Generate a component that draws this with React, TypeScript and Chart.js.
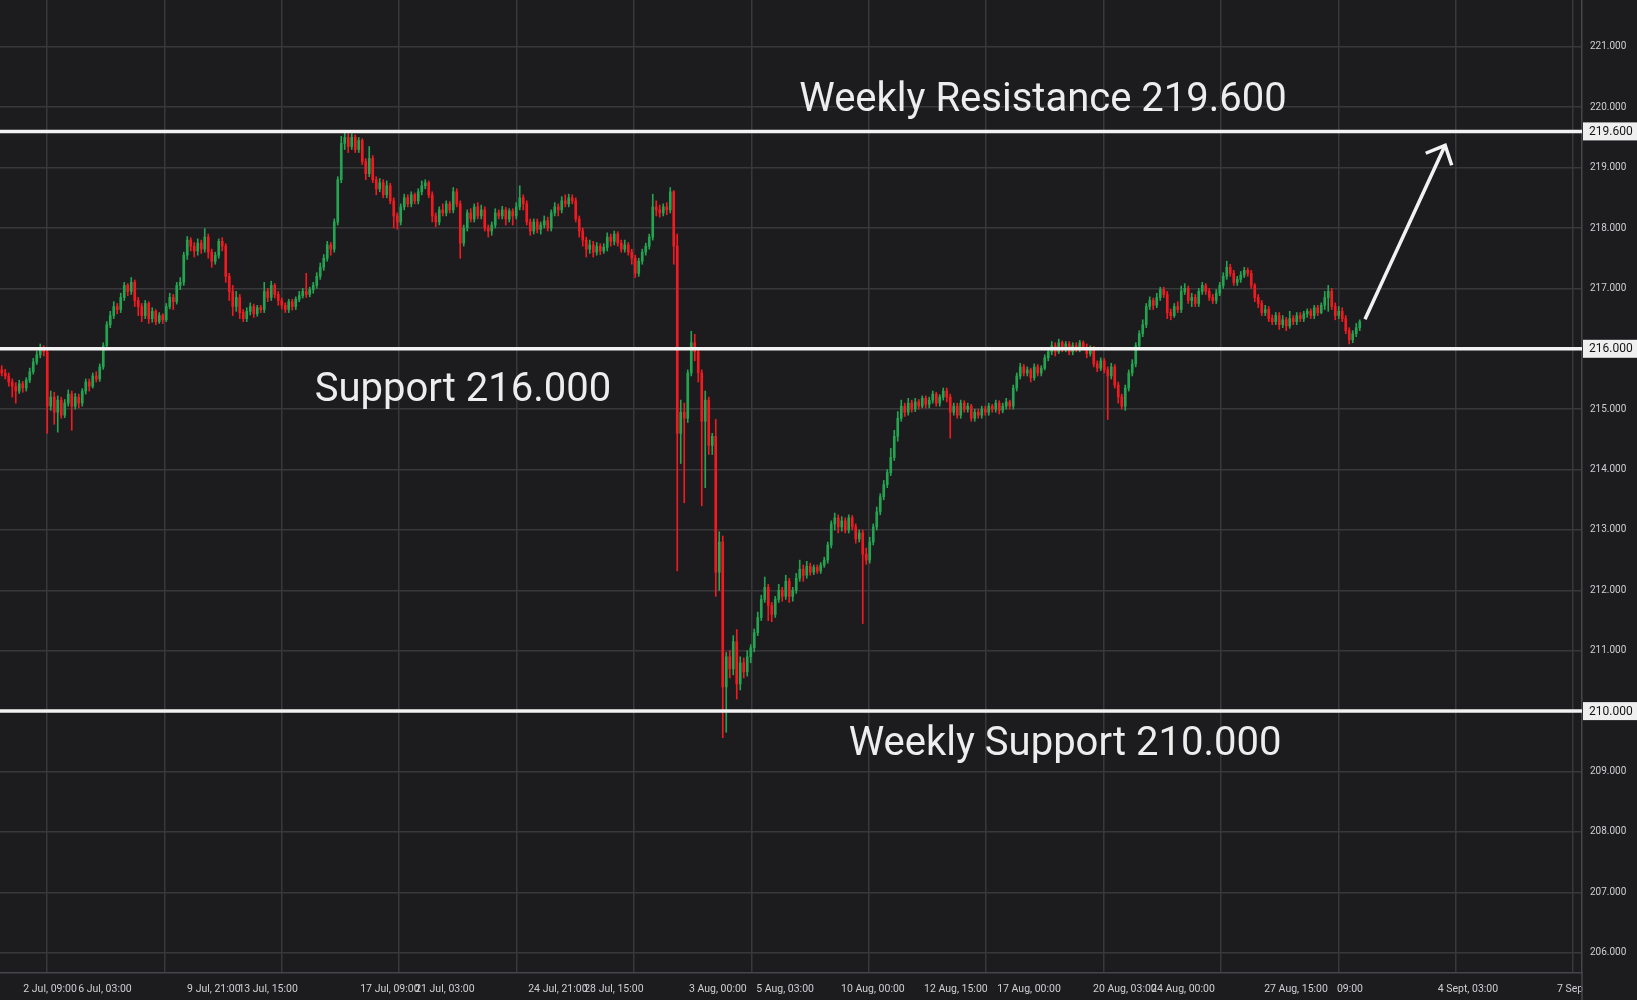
import { useEffect, useRef } from "react";
import { Chart, registerables } from "chart.js";

Chart.register(...registerables);

// ---------- data ----------
const firstOpen = 215.65;

const closes = [
  215.60, 215.55, 215.45, 215.38, 215.30, 215.42, 215.35, 215.48, 215.62, 215.78,
  215.90, 216.02, 215.95, 215.05, 215.20, 214.95, 215.15, 214.90, 215.10, 215.25,
  215.05, 215.20, 215.10, 215.30, 215.45, 215.38, 215.55, 215.50, 215.70, 216.05,
  216.40, 216.55, 216.70, 216.65, 216.85, 217.05, 216.95, 217.10, 216.80, 216.70,
  216.55, 216.75, 216.50, 216.62, 216.45, 216.55, 216.48, 216.70, 216.85, 216.78,
  217.05, 217.10, 217.55, 217.80, 217.70, 217.62, 217.75, 217.65, 217.85, 217.60,
  217.45, 217.55, 217.78, 217.70, 217.20, 216.95, 216.70, 216.85, 216.60, 216.50,
  216.62, 216.70, 216.58, 216.68, 216.65, 216.95, 216.85, 217.05, 216.90, 216.80,
  216.72, 216.65, 216.78, 216.70, 216.82, 216.88, 216.95, 216.90, 216.98, 217.05,
  217.20, 217.35, 217.50, 217.72, 217.65, 218.10, 218.80, 219.40, 219.50, 219.35,
  219.50, 219.30, 219.45, 219.10, 218.90, 219.15, 218.80, 218.65, 218.75, 218.55,
  218.70, 218.45, 218.20, 218.10, 218.35, 218.50, 218.40, 218.55, 218.45, 218.60,
  218.70, 218.75, 218.55, 218.20, 218.10, 218.30, 218.25, 218.40, 218.30, 218.60,
  218.40, 217.75, 218.00, 218.25, 218.15, 218.35, 218.20, 218.30, 218.00, 217.95,
  218.05, 218.25, 218.20, 218.30, 218.15, 218.28, 218.20, 218.35, 218.50, 218.40,
  218.10, 217.95, 218.10, 217.98, 218.05, 218.12, 218.00, 218.25, 218.35, 218.30,
  218.45, 218.40, 218.50, 218.45, 218.15, 217.95, 217.80, 217.65, 217.72, 217.60,
  217.70, 217.62, 217.68, 217.85, 217.78, 217.90, 217.75, 217.65, 217.72, 217.60,
  217.50, 217.25, 217.45, 217.60, 217.70, 217.85, 218.35, 218.30, 218.25, 218.35,
  218.30, 218.60, 217.70, 214.60, 214.95, 214.85, 215.60, 216.10, 215.95, 215.60,
  214.80, 215.15, 214.40, 214.55, 212.30, 212.80, 210.40, 210.90, 210.70, 211.15,
  210.45, 210.80, 210.65, 210.90, 211.05, 211.30, 211.55, 211.85, 212.05, 211.75,
  211.60, 211.85, 212.00, 211.90, 212.15, 211.90, 212.00, 212.20, 212.35, 212.25,
  212.40, 212.30, 212.38, 212.32, 212.42, 212.50, 212.75, 213.10, 213.20, 213.05,
  213.15, 213.00, 213.20, 213.05, 212.85, 212.95, 212.60, 212.50, 212.80, 213.05,
  213.30, 213.55, 213.75, 213.95, 214.20, 214.55, 214.85, 215.05, 214.95, 215.10,
  215.00, 215.12, 215.05, 215.18, 215.08, 215.15, 215.25, 215.10, 215.20, 215.30,
  215.20, 214.95, 215.05, 214.90, 215.10, 215.00, 215.05, 214.85, 214.95, 214.90,
  215.00, 214.95, 215.05, 215.00, 215.10, 214.98, 215.05, 215.12, 215.05, 215.35,
  215.55, 215.70, 215.60, 215.65, 215.52, 215.70, 215.60, 215.68, 215.85, 215.95,
  216.05, 215.95, 216.10, 216.00, 216.08, 215.95, 216.05, 216.00, 216.10, 216.02,
  215.92, 216.00, 215.75, 215.68, 215.80, 215.65, 215.55, 215.70, 215.40, 215.20,
  215.05, 215.35, 215.60, 215.75, 216.05, 216.25, 216.40, 216.70, 216.80, 216.72,
  216.85, 216.98, 216.90, 216.60, 216.55, 216.70, 216.65, 216.95, 217.00, 216.80,
  216.85, 216.75, 216.95, 217.05, 216.95, 216.85, 216.80, 216.92, 217.05, 217.20,
  217.35, 217.25, 217.10, 217.15, 217.22, 217.30, 217.25, 217.05, 216.85, 216.75,
  216.60, 216.65, 216.50, 216.45, 216.55, 216.40, 216.48, 216.38, 216.50, 216.45,
  216.55, 216.50, 216.58, 216.62, 216.55, 216.68, 216.60, 216.72, 216.85, 216.95,
  216.70, 216.55, 216.62, 216.50, 216.30, 216.15, 216.25, 216.35, 216.45,
];

const highs = [
  215.72, 215.66, 215.60, 215.50, 215.44, 215.48, 215.46, 215.52, 215.68, 215.84,
  215.96, 216.08, 216.05, 215.98, 215.30, 215.28, 215.22, 215.20, 215.16, 215.32,
  215.30, 215.26, 215.25, 215.34, 215.50, 215.50, 215.60, 215.62, 215.75, 216.10,
  216.45, 216.62, 216.78, 216.75, 216.92, 217.10, 217.08, 217.18, 217.14, 216.85,
  216.75, 216.80, 216.78, 216.68, 216.65, 216.60, 216.58, 216.75, 216.92, 216.90,
  217.10, 217.18, 217.60, 217.86, 217.84, 217.76, 217.82, 217.80, 217.99, 217.90,
  217.65, 217.60, 217.82, 217.84, 217.74, 217.25, 217.05, 216.95, 216.90, 216.65,
  216.68, 216.76, 216.74, 216.72, 216.72, 217.10, 217.00, 217.12, 217.08, 216.95,
  216.84, 216.76, 216.82, 216.82, 216.86, 216.95, 217.00, 217.25, 217.02, 217.10,
  217.26, 217.42, 217.56, 217.78, 217.76, 218.15, 218.85, 219.52, 219.58, 219.56,
  219.56, 219.54, 219.50, 219.48, 219.15, 219.35, 219.20, 218.85, 218.82, 218.80,
  218.78, 218.74, 218.50, 218.25, 218.40, 218.56, 218.55, 218.60, 218.58, 218.65,
  218.78, 218.80, 218.78, 218.60, 218.25, 218.35, 218.40, 218.45, 218.44, 218.67,
  218.65, 218.45, 218.05, 218.30, 218.32, 218.40, 218.42, 218.38, 218.35, 218.05,
  218.10, 218.32, 218.30, 218.36, 218.34, 218.32, 218.32, 218.42, 218.70, 218.55,
  218.45, 218.15, 218.15, 218.15, 218.10, 218.20, 218.18, 218.30, 218.42, 218.40,
  218.52, 218.55, 218.56, 218.55, 218.50, 218.20, 218.00, 217.85, 217.80, 217.78,
  217.76, 217.74, 217.74, 217.92, 217.90, 217.95, 217.94, 217.80, 217.80, 217.76,
  217.65, 217.55, 217.50, 217.65, 217.75, 217.90, 218.56, 218.45, 218.38, 218.40,
  218.42, 218.67, 218.62, 217.90, 215.15, 215.10, 215.65, 216.29, 216.24, 216.00,
  215.65, 215.30, 215.20, 214.60, 214.83, 212.97, 212.90, 210.97, 211.00, 211.25,
  211.35, 210.90, 210.88, 211.00, 211.10, 211.36, 211.64, 211.92, 212.22, 212.10,
  211.80, 211.90, 212.10, 212.05, 212.25, 212.20, 212.05, 212.28, 212.50, 212.42,
  212.48, 212.45, 212.42, 212.42, 212.46, 212.55, 212.80, 213.15, 213.28, 213.25,
  213.22, 213.20, 213.25, 213.24, 213.10, 213.00, 213.00, 212.70, 212.88, 213.10,
  213.38, 213.60, 213.82, 214.00, 214.35, 214.65, 214.96, 215.15, 215.10, 215.18,
  215.15, 215.18, 215.16, 215.22, 215.22, 215.20, 215.30, 215.28, 215.24, 215.35,
  215.35, 215.25, 215.10, 215.10, 215.15, 215.14, 215.10, 215.08, 215.00, 215.00,
  215.05, 215.05, 215.10, 215.08, 215.15, 215.14, 215.10, 215.18, 215.15, 215.40,
  215.60, 215.76, 215.74, 215.70, 215.68, 215.75, 215.74, 215.72, 215.90, 216.00,
  216.12, 216.10, 216.16, 216.13, 216.12, 216.12, 216.10, 216.10, 216.14, 216.13,
  216.08, 216.05, 216.04, 215.80, 215.85, 215.84, 215.70, 215.76, 215.74, 215.45,
  215.25, 215.40, 215.65, 215.82, 216.10, 216.30, 216.48, 216.75, 216.86, 216.84,
  216.92, 217.02, 217.02, 216.95, 216.66, 216.75, 216.78, 217.04, 217.08, 217.04,
  216.92, 216.90, 217.00, 217.10, 217.08, 217.00, 216.90, 216.98, 217.10, 217.26,
  217.45, 217.40, 217.30, 217.20, 217.28, 217.35, 217.34, 217.30, 217.08, 216.90,
  216.80, 216.72, 216.70, 216.56, 216.60, 216.60, 216.55, 216.52, 216.62, 216.55,
  216.60, 216.60, 216.62, 216.66, 216.66, 216.72, 216.72, 216.76, 216.95, 217.05,
  217.00, 216.76, 216.70, 216.68, 216.55, 216.35, 216.30, 216.42, 216.48,
];

const lows = [
  215.55, 215.50, 215.38, 215.20, 215.10, 215.26, 215.28, 215.30, 215.44, 215.58,
  215.74, 215.85, 215.88, 214.60, 214.98, 214.75, 214.62, 214.85, 214.86, 215.05,
  214.65, 215.00, 215.02, 215.05, 215.25, 215.30, 215.35, 215.45, 215.46, 215.66,
  216.00, 216.35, 216.50, 216.58, 216.60, 216.80, 216.88, 216.90, 216.70, 216.55,
  216.45, 216.50, 216.42, 216.44, 216.40, 216.42, 216.42, 216.45, 216.66, 216.65,
  216.74, 216.98, 217.05, 217.48, 217.62, 217.52, 217.55, 217.58, 217.60, 217.50,
  217.35, 217.40, 217.50, 217.62, 217.10, 216.80, 216.55, 216.62, 216.50, 216.45,
  216.45, 216.56, 216.52, 216.54, 216.60, 216.60, 216.78, 216.80, 216.84, 216.72,
  216.66, 216.60, 216.60, 216.64, 216.65, 216.78, 216.84, 216.85, 216.86, 216.92,
  217.00, 217.15, 217.30, 217.45, 217.55, 217.60, 218.05, 218.75, 219.30, 219.25,
  219.30, 219.25, 219.25, 219.05, 218.80, 218.85, 218.75, 218.55, 218.60, 218.50,
  218.50, 218.40, 218.00, 217.98, 218.05, 218.30, 218.35, 218.35, 218.40, 218.40,
  218.55, 218.65, 218.50, 218.10, 218.02, 218.05, 218.20, 218.20, 218.25, 218.25,
  218.35, 217.50, 217.70, 217.95, 218.10, 218.10, 218.15, 218.15, 217.95, 217.85,
  217.88, 218.00, 218.15, 218.15, 218.05, 218.10, 218.05, 218.15, 218.30, 218.30,
  218.05, 217.88, 217.90, 217.92, 217.90, 218.00, 217.95, 217.95, 218.20, 218.20,
  218.25, 218.35, 218.35, 218.40, 218.10, 217.85, 217.70, 217.52, 217.58, 217.52,
  217.55, 217.56, 217.58, 217.62, 217.70, 217.72, 217.70, 217.60, 217.60, 217.55,
  217.40, 217.18, 217.20, 217.40, 217.55, 217.65, 217.80, 218.20, 218.18, 218.20,
  218.22, 218.25, 217.40, 212.32, 214.10, 213.45, 214.78, 215.55, 215.80, 215.45,
  213.40, 213.70, 214.25, 214.25, 211.90, 212.00, 209.56, 209.65, 210.55, 210.60,
  210.20, 210.35, 210.55, 210.58, 210.80, 210.98, 211.25, 211.50, 211.80, 211.50,
  211.48, 211.55, 211.80, 211.82, 211.85, 211.80, 211.82, 211.95, 212.15, 212.15,
  212.20, 212.25, 212.26, 212.28, 212.28, 212.38, 212.45, 212.70, 213.00, 212.95,
  212.98, 212.95, 212.95, 213.00, 212.78, 212.80, 211.45, 212.43, 212.45, 212.75,
  213.00, 213.25, 213.50, 213.70, 213.90, 214.15, 214.47, 214.80, 214.88, 214.90,
  214.95, 214.96, 215.00, 215.02, 215.02, 215.02, 215.10, 215.05, 215.05, 215.15,
  215.12, 214.52, 214.90, 214.85, 214.85, 214.95, 214.95, 214.80, 214.80, 214.85,
  214.85, 214.90, 214.90, 214.95, 214.95, 214.92, 214.94, 215.00, 215.00, 215.00,
  215.30, 215.50, 215.55, 215.55, 215.45, 215.48, 215.55, 215.55, 215.65, 215.80,
  215.90, 215.88, 215.92, 215.95, 215.95, 215.90, 215.90, 215.95, 215.95, 215.98,
  215.85, 215.88, 215.70, 215.62, 215.64, 215.60, 214.83, 215.50, 215.35, 215.10,
  215.00, 214.98, 215.30, 215.55, 215.70, 216.00, 216.20, 216.35, 216.65, 216.65,
  216.68, 216.80, 216.85, 216.50, 216.48, 216.52, 216.60, 216.60, 216.90, 216.75,
  216.70, 216.70, 216.70, 216.90, 216.90, 216.80, 216.75, 216.75, 216.88, 217.00,
  217.15, 217.20, 217.05, 217.05, 217.10, 217.18, 217.20, 217.00, 216.78, 216.68,
  216.55, 216.55, 216.45, 216.40, 216.40, 216.32, 216.35, 216.30, 216.34, 216.40,
  216.40, 216.45, 216.45, 216.52, 216.50, 216.50, 216.55, 216.58, 216.65, 216.62,
  216.65, 216.48, 216.50, 216.45, 216.25, 216.08, 216.10, 216.20, 216.30,
];

// time-axis tick labels and the candle index they sit at
const timeLabels = [
  "2 Jul, 09:00", "6 Jul, 03:00", "9 Jul, 21:00", "13 Jul, 15:00",
  "17 Jul, 09:00", "21 Jul, 03:00", "24 Jul, 21:00", "28 Jul, 15:00",
  "3 Aug, 00:00", "5 Aug, 03:00", "10 Aug, 00:00", "12 Aug, 15:00",
  "17 Aug, 00:00", "20 Aug, 03:00", "24 Aug, 00:00", "27 Aug, 15:00",
  "09:00", "4 Sept, 03:00", "7 Sep",
];
const timeLabelIndex = [
  13.8, 29.5, 60.6, 76.1, 110.9, 126.6, 158.9, 174.9, 204.6, 223.8,
  248.9, 272.6, 293.5, 320.9, 337.5, 369.8, 385.2, 418.9, 448.1,
];

// price levels
const levelValues = [219.6, 216.0, 210.0];
const levelTexts = ["219.600", "216.000", "210.000"];

// text notes (anchor: candle index, price)
const noteTexts = ["Weekly Resistance 219.600", "Support 216.000", "Weekly Support 210.000"];
const noteIndex = [297.5, 131.8, 303.8];
const notePrice = [219.94, 215.13, 209.28];

// arrow (candle index, price)
const arrowIndex = [389.5, 412.4];
const arrowPrice = [216.49, 219.37];

// ---------- style ----------
const BG = "#1c1c1f";
const GRID = "#38383b";
const AXIS = "#46464a";
const GREEN = "#24a450";
const RED = "#f21a20";
const WHITE = "#f2f2f2";
const TEXT = "#cfcfd2";
const X_MIN = -0.5;
const X_MAX = 451.5;
const GRID_FIRST = 12.93;
const GRID_STEP = 33.54;
const GRID_COUNT = 14;

export default function App() {
  const ref = useRef<HTMLCanvasElement | null>(null);

  useEffect(() => {
    if (!ref.current) return;
    const opens = closes.map((c, i) => (i === 0 ? firstOpen : closes[i - 1]));
    const colors = closes.map((c, i) => (c >= opens[i] ? GREEN : RED));
    const wickData = closes.map((c, i) => ({
      x: i,
      y: [Math.min(lows[i], opens[i], c), Math.max(highs[i], opens[i], c)],
    }));
    const bodyData = closes.map((c, i) => ({ x: i, y: [opens[i], c] }));
    const gridTicks: number[] = [];
    for (let k = 0; k < GRID_COUNT; k++) gridTicks.push(GRID_FIRST + k * GRID_STEP);

    const overlay = {
      id: "overlay",
      beforeDraw(chart: any) {
        const ctx = chart.ctx;
        ctx.save();
        ctx.fillStyle = BG;
        ctx.fillRect(0, 0, chart.width, chart.height);
        ctx.restore();
      },
      afterDatasetsDraw(chart: any) {
        const ctx = chart.ctx;
        const xs = chart.scales.x;
        const ys = chart.scales.y;
        ctx.save();
        ctx.fillStyle = "#ededed";
        ctx.font = "40px Roboto";
        ctx.textAlign = "center";
        ctx.textBaseline = "alphabetic";
        noteTexts.forEach((t, i) => {
          ctx.fillText(t, xs.getPixelForValue(noteIndex[i]), ys.getPixelForValue(notePrice[i]));
        });
        const x0 = xs.getPixelForValue(arrowIndex[0]);
        const y0 = ys.getPixelForValue(arrowPrice[0]);
        const x1 = xs.getPixelForValue(arrowIndex[1]);
        const y1 = ys.getPixelForValue(arrowPrice[1]);
        ctx.strokeStyle = WHITE;
        ctx.lineWidth = 3.5;
        ctx.lineCap = "butt";
        ctx.lineJoin = "miter";
        ctx.beginPath();
        ctx.moveTo(x0, y0);
        ctx.lineTo(x1, y1);
        ctx.stroke();
        const back = Math.atan2(y0 - y1, x0 - x1);
        const hl = 21;
        const sp = 0.75;
        ctx.beginPath();
        ctx.moveTo(x1 + hl * Math.cos(back + sp), y1 + hl * Math.sin(back + sp));
        ctx.lineTo(x1, y1);
        ctx.lineTo(x1 + hl * Math.cos(back - sp), y1 + hl * Math.sin(back - sp));
        ctx.stroke();
        ctx.restore();
      },
      afterDraw(chart: any) {
        const ctx = chart.ctx;
        const ys = chart.scales.y;
        ctx.save();
        ctx.strokeStyle = AXIS;
        ctx.lineWidth = 1.5;
        ctx.beginPath();
        ctx.moveTo(ys.left, chart.chartArea.bottom);
        ctx.lineTo(ys.left, chart.height);
        ctx.stroke();
        levelValues.forEach((v, i) => {
          const y = ys.getPixelForValue(v);
          ctx.fillStyle = "#efefef";
          ctx.fillRect(ys.left + 1, y - 9, chart.width - ys.left - 1, 18);
          ctx.fillStyle = "#131316";
          ctx.font = "12px Roboto";
          ctx.textAlign = "left";
          ctx.textBaseline = "middle";
          ctx.fillText(levelTexts[i], ys.left + 7, y + 0.5);
        });
        ctx.restore();
      },
    };

    const chart = new Chart(ref.current, {
      type: "bar",
      data: {
        datasets: [
          {
            type: "bar",
            label: "wicks",
            data: wickData as any,
            backgroundColor: colors,
            borderWidth: 0,
            barThickness: 1,
            grouped: false,
            order: 1,
            xAxisID: "x",
            yAxisID: "y",
          } as any,
          {
            type: "bar",
            label: "bodies",
            data: bodyData as any,
            backgroundColor: colors,
            borderWidth: 0,
            barThickness: 2,
            minBarLength: 1,
            grouped: false,
            order: 0,
            xAxisID: "x",
            yAxisID: "y",
          } as any,
          ...levelValues.map((v) => ({
            type: "line",
            label: "level " + v,
            data: [
              { x: X_MIN, y: v },
              { x: X_MAX, y: v },
            ],
            borderColor: WHITE,
            borderWidth: 3.5,
            pointRadius: 0,
            order: -1,
            xAxisID: "x",
            yAxisID: "y",
          })) as any,
        ],
      },
      options: {
        animation: false,
        responsive: true,
        maintainAspectRatio: false,
        events: [],
        layout: { padding: 0 },
        plugins: { legend: { display: false }, tooltip: { enabled: false } },
        font: { family: "Roboto" },
        scales: {
          x: {
            type: "linear",
            position: "bottom",
            min: X_MIN,
            max: X_MAX,
            offset: false,
            bounds: "data",
            grid: { color: GRID, lineWidth: 1.5, drawTicks: false, offset: false },
            border: { display: true, color: AXIS, width: 1.5 },
            ticks: { display: false },
            afterBuildTicks: (s: any) => {
              s.ticks = gridTicks.map((v) => ({ value: v }));
            },
            afterFit: (s: any) => {
              s.height = 0;
              s.paddingLeft = 0;
              s.paddingRight = 0;
              s.paddingTop = 0;
              s.paddingBottom = 0;
            },
          },
          xt: {
            type: "linear",
            position: "bottom",
            min: X_MIN,
            max: X_MAX,
            offset: false,
            bounds: "data",
            grid: { display: false, drawTicks: false },
            border: { display: false },
            ticks: {
              autoSkip: false,
              maxRotation: 0,
              minRotation: 0,
              padding: 10,
              color: TEXT,
              font: { family: "Roboto", size: 10.5 },
              callback: (_v: any, i: number) => timeLabels[i],
            },
            afterBuildTicks: (s: any) => {
              s.ticks = timeLabelIndex.map((v) => ({ value: v }));
            },
            afterFit: (s: any) => {
              s.height = 27;
              s.paddingLeft = 0;
              s.paddingRight = 0;
              s.paddingTop = 0;
              s.paddingBottom = 0;
            },
          },
          y: {
            type: "linear",
            position: "right",
            min: 205.663,
            max: 221.776,
            grid: { color: GRID, lineWidth: 1.5, drawTicks: false },
            border: { display: true, color: AXIS, width: 1.5 },
            ticks: {
              stepSize: 1,
              includeBounds: false,
              padding: 8,
              color: TEXT,
              font: { family: "Roboto", size: 10 },
              callback: (v: any) => Number(v).toFixed(3),
            },
            afterFit: (s: any) => {
              s.width = 55;
              s.paddingTop = 0;
              s.paddingBottom = 0;
              s.paddingLeft = 0;
              s.paddingRight = 0;
            },
          },
        } as any,
      } as any,
      plugins: [overlay],
    });

    return () => chart.destroy();
  }, []);

  return (
    <div style={{ position: "fixed", left: 0, top: 0, width: "100vw", height: "100vh", background: BG }}>
      <canvas ref={ref} />
    </div>
  );
}
